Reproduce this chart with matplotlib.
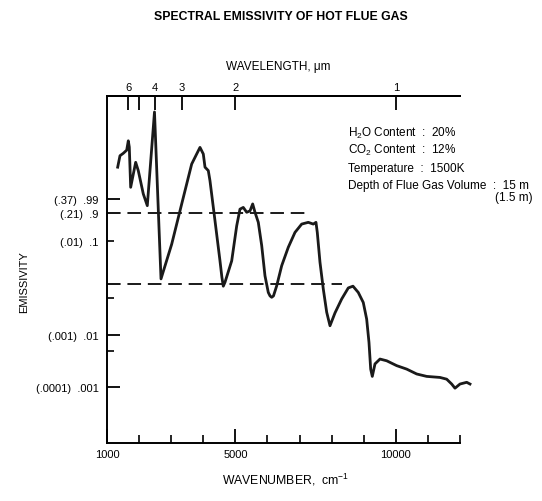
import numpy as np
import matplotlib
matplotlib.use("Agg")
import matplotlib.pyplot as plt
from matplotlib.ticker import FixedLocator, FixedFormatter

plt.rcParams['font.family'] = ['Liberation Sans', 'DejaVu Sans']
plt.rcParams['mathtext.fontset'] = 'custom'
plt.rcParams['mathtext.rm'] = 'Liberation Sans'
plt.rcParams['mathtext.it'] = 'Liberation Sans'

# spectrum: wavenumber (cm-1) vs position on the emissivity scale (0..100)
wavenumber = [1333, 1405, 1508, 1614, 1664, 1695, 1738, 1820, 1894, 1975, 2131, 2256,
              2480, 2683, 3016, 3328, 3639, 3795, 3898, 4001, 4054, 4157, 4209,
              4365, 4521, 4580, 4624, 4676, 4886, 5042, 5144, 5247, 5353, 5456, 5540, 5612,
              5715, 5821, 5923, 6026, 6080, 6132, 6188, 6288, 6444, 6649, 6858, 7067, 7272,
              7428, 7512, 7553, 7637, 7740, 7846, 7949, 8105, 8313, 8519, 8665,
              8830, 8986, 9092, 9164, 9217, 9267, 9351, 9507, 9716, 10027, 10339,
              10650, 10962, 11376, 11585, 11741, 11844, 12000, 12209, 12312]
emis_scale = [79.5, 82.8, 83.5, 84.4, 87.1, 85.3, 73.7, 77.5, 80.9, 78.5, 71.8, 68.4,
              95.4, 47.3, 57.3, 68.9, 80.4, 83.3, 85.2, 83.3, 79.5, 78.5, 75.6,
              64.1, 52.5, 47.8, 45.2, 46.3, 52.5, 62.6, 67.4, 67.9, 66.5, 66.9, 68.9, 66.5,
              63.6, 56.9, 48.2, 43.4, 42.4, 42.0, 42.4, 45.3, 51.1, 56.4, 60.7, 63.1, 63.6,
              63.1, 63.6, 60.7, 52.1, 44.4, 37.7, 33.8, 37.5, 41.5, 44.7, 45.2,
              43.4, 40.5, 35.7, 29.0, 21.3, 19.2, 22.8, 24.2, 23.7, 22.3, 21.3,
              19.9, 19.2, 18.9, 18.4, 17.0, 15.8, 17.0, 17.5, 17.0]

# emissivity scale ticks (position, label)
y_major = [70.3, 66.4, 45.8, 31.1, 16.1]
y_major_labels = ['(.37)  .99', '(.21)  .9', '', '(.001)  .01', '(.0001)  .001']
y_minor = [58.2, 41.8, 26.5]
y_minor_labels = ['(.01)  .1', '', '']

# reference levels (dashed)
level_y = [66.4, 45.8]
level_xmax = [7220, 8320]

x_major = [1000, 5000, 10000]
x_major_labels = ['1000', '5000', '10000']
x_minor = [2000, 3000, 4000, 6000, 7000, 8000, 9000, 11000, 12000]

wavelengths = [6, 5, 4, 3, 2, 1]
wavelength_labels = ['6', '', '4', '3', '2', '1']

fig = plt.figure(figsize=(5.42, 5.02), dpi=100)
ax = fig.add_axes([0.1974, 0.1155, 0.6513, 0.6912])

ax.plot(wavenumber, emis_scale, color='#1a1a1a', lw=2.0, clip_on=False,
        solid_joinstyle='round')
for ly, lx in zip(level_y, level_xmax):
    ax.plot([1000, lx], [ly, ly], color='#1a1a1a', lw=1.4, ls=(0, (7, 3.5)))

ax.set_xlim(1000, 12000)
ax.set_ylim(0, 100)

for s in ['left', 'bottom', 'top']:
    ax.spines[s].set_linewidth(1.4)
ax.spines['right'].set_visible(False)

ax.xaxis.set_major_locator(FixedLocator(x_major))
ax.xaxis.set_major_formatter(FixedFormatter(x_major_labels))
ax.xaxis.set_minor_locator(FixedLocator(x_minor))
ax.tick_params(axis='x', which='major', direction='in', length=10, width=1.3,
               labelsize=8, pad=4, top=False)
ax.tick_params(axis='x', which='minor', direction='in', length=6, width=1.2, top=False)

ax.yaxis.set_major_locator(FixedLocator(y_major))
ax.yaxis.set_major_formatter(FixedFormatter(y_major_labels))
ax.yaxis.set_minor_locator(FixedLocator(y_minor))
ax.yaxis.set_minor_formatter(FixedFormatter(y_minor_labels))
ax.tick_params(axis='y', which='major', direction='in', length=9, width=1.3,
               labelsize=8, pad=6)
ax.tick_params(axis='y', which='minor', direction='in', length=5, width=1.2,
               labelsize=8, pad=6)

# wavelength axis on top
top = ax.secondary_xaxis('top')
top.set_xticks([1e4 / w for w in wavelengths])
top.set_xticklabels(wavelength_labels)
top.tick_params(direction='in', length=10, width=1.3, labelsize=8, pad=3)
top.spines['top'].set_linewidth(1.4)

fig.text(0.518, 0.966, 'SPECTRAL EMISSIVITY OF HOT FLUE GAS', ha='center', va='center',
         fontsize=8.8, fontweight='bold')
fig.text(0.513, 0.8665, 'WAVELENGTH, \u03bcm', ha='center', va='center', fontsize=8.5)
fig.text(0.526, 0.0438, 'WAVENUMBER,  cm$^{-1}$', ha='center', va='center', fontsize=8.8)
fig.text(0.0443, 0.438, 'EMISSIVITY', ha='center', va='center', rotation=90, fontsize=8)

notes = ['H$_2$O Content  :  20%', 'CO$_2$ Content  :  12%', 'Temperature  :  1500K',
         'Depth of Flue Gas Volume  :  15 m']
for i, t in enumerate(notes):
    fig.text(0.642, 0.735 - i * 0.0355, t, ha='left', va='center', fontsize=8.5)
fig.text(0.983, 0.606, '(1.5 m)', ha='right', va='center', fontsize=8.5)

fig.savefig('out.png', dpi=100)
